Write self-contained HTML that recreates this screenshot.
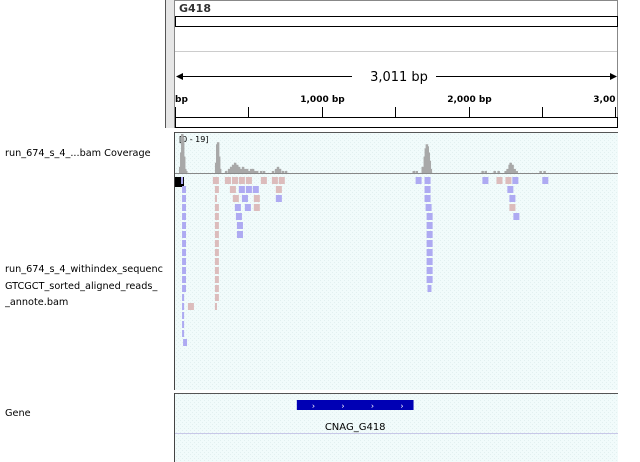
<!DOCTYPE html>
<html><head><meta charset="utf-8"><style>
html,body{margin:0;padding:0;background:#fff;}
body{width:640px;height:462px;overflow:hidden;position:relative;font-family:"DejaVu Sans","Liberation Sans",sans-serif;}
.lbl{position:absolute;left:5px;font-size:9.7px;color:#000;white-space:nowrap;overflow:hidden;width:158px;}
</style></head><body>
<div class="lbl" style="top:148px">run_674_s_4_...bam Coverage</div>
<div class="lbl" style="top:262px;line-height:16.5px">run_674_s_4_withindex_sequenc<br>GTCGCT_sorted_aligned_reads_<br>_annote.bam</div>
<div class="lbl" style="top:408px">Gene</div>
<svg id="chart" width="640" height="462" style="position:absolute;left:0;top:0" xmlns="http://www.w3.org/2000/svg">
<defs>
<pattern id="bgp" width="4" height="4" patternUnits="userSpaceOnUse"><rect width="4" height="4" fill="#f1fbfb"/><rect x="0" y="0" width="1" height="1" fill="#e2f0f0"/><rect x="2" y="2" width="1" height="1" fill="#e2f0f0"/></pattern>
</defs>
<line x1="165.5" y1="0" x2="165.5" y2="128" stroke="#555"/>
<rect x="166" y="0" width="8" height="128" fill="#e6e6e6"/>
<rect x="174.5" y="0.5" width="443" height="127" fill="#fff" stroke="#888"/>
<text x="179" y="12" font-size="11" font-weight="bold" fill="#333" font-family="DejaVu Sans,sans-serif">G418</text>
<rect x="175.5" y="16.5" width="442" height="10" fill="#fff" stroke="#000"/>
<line x1="175" y1="51.5" x2="617" y2="51.5" stroke="#ccc"/>
<g id="ruler"></g>
<rect x="175.5" y="117.5" width="442" height="10" fill="#fff" stroke="#000"/>
<line x1="174.5" y1="132" x2="174.5" y2="390" stroke="#444"/>
<rect x="175" y="132" width="443" height="258" fill="url(#bgp)"/>
<line x1="175" y1="132.5" x2="618" y2="132.5" stroke="#555"/>
<text x="179" y="142" font-size="8" fill="#000" font-family="DejaVu Sans,sans-serif">[0 - 19]</text>
<g id="cov"></g>
<line x1="175" y1="173.5" x2="618" y2="173.5" stroke="#888"/>
<rect x="175" y="177" width="9" height="10" fill="#000"/>
<g id="reads"></g>
<line x1="174.5" y1="393" x2="174.5" y2="462" stroke="#444"/>
<rect x="175" y="393" width="443" height="69" fill="url(#bgp)"/>
<line x1="175" y1="393.5" x2="618" y2="393.5" stroke="#555"/>
<line x1="175" y1="433.5" x2="618" y2="433.5" stroke="#c8c8e8"/>
<g id="gene"></g>
</svg>
<script>
// genome axis
const genomeStart = 0, genomeEnd = 3011;
const rulerTicks = [0, 500, 1000, 1500, 2000, 2500, 3000];
const rulerTickLabels = ["bp", "", "1,000 bp", "", "2,000 bp", "", "3,00"];
// coverage data (bp position, depth)
const covPos = [34,41,48,54,61,68,75, 279,286,292,299,306, 347,367,381,394,408,422,435,449,462,476,490,503,517,530,544,558, 585,605, 666,687,700,714,734,755, 1625,1645,1686,1700,1707,1714,1720,1727,1734,1741, 2094,2115,2176,2203, 2251,2264,2278,2285,2298,2312,2326, 2489,2516];
const covDepth = [3,10,19,17,8,2,1, 5,14,15,8,2, 1,2,3,4,5,4,3,2,3,2,2,1,2,2,1,1, 1,1, 1,2,3,2,1,1, 1,1,3,8,12,14,13,10,6,2, 1,1,1,1, 1,2,4,5,4,2,1, 1,1];
const covMax = 19;
// reads: row index, start bp, length bp, strand
const readRow = [
 0,0,0,0,0,0,0,0,0,0,0,0,0,0,0,0,
 1,1,1,1,1,1,1,1,1,
 2,2,2,2,2,2,2,2,
 3,3,3,3,3,3,3,
 4,4,4,4,4,
 5,5,5,5,
 6,6,6,6,
 7,7,7, 8,8,8, 9,9,9, 10,10,10, 11,11,11,
 12,12,12,
 13,13,
 14,14,14,
 15,16,17,
 18];
const readStart = [
 41,258,340,388,435,483,585,660,707,1639,1700,2094,2190,2251,2298,2502,
 48,272,374,435,483,530,687,1700,2264,
 48,272,394,456,537,687,1700,2278,
 48,272,408,476,537,1707,2278,
 48,272,415,1714,2305,
 48,272,422,1714,
 48,272,422,1714,
 48,272,1714, 48,272,1714, 48,272,1714, 48,272,1714, 48,272,1714,
 48,272,1720,
 48,272,
 48,88,272,
 48,48,48,
 55];
const readLen = [
 14,41,41,41,41,41,41,41,41,41,41,41,41,41,41,41,
 27,27,41,41,41,41,41,41,41,
 27,14,41,41,41,41,41,41,
 27,27,41,41,41,41,41,
 27,27,41,41,41,
 27,27,41,41,
 27,27,41,41,
 27,27,41, 27,27,41, 27,27,41, 27,27,41, 27,27,41,
 27,27,27,
 14,27,
 14,41,14,
 14,14,14,
 27];
const readStrand = [
 "+","-","-","-","-","-","-","-","-","+","+","+","-","-","+","+",
 "+","-","-","+","+","+","-","+","+",
 "+","-","-","+","-","+","+","+",
 "+","-","+","+","-","+","-",
 "+","-","+","+","+",
 "+","-","+","+",
 "+","-","+","+",
 "+","-","+", "+","-","+", "+","-","+", "+","-","+", "+","-","+",
 "+","-","+",
 "+","-",
 "+","-","-",
 "+","+","+",
 "+"];
// gene
const geneName = "CNAG_G418", geneStart = 830, geneEnd = 1625;

const X0 = 175, X1 = 617;
const xs = bp => X0 + (bp - genomeStart) / (genomeEnd - genomeStart) * (X1 - X0);
const NS = "http://www.w3.org/2000/svg";
function mk(tag, attrs, parent){const e=document.createElementNS(NS,tag);for(const k in attrs)e.setAttribute(k,attrs[k]);parent.appendChild(e);return e;}

const ruler = document.getElementById('ruler');
let l = mk('line',{x1:xs(genomeStart)+4,y1:76.5,x2:352,y2:76.5,stroke:'#000'},ruler);


l = mk('line',{x1:436,y1:76.5,x2:xs(genomeEnd)-4,y2:76.5,stroke:'#000'},ruler);


let p = mk('polygon',{points:`${X0+1},76.5 ${X0+8},73 ${X0+8},80`,fill:'#000'},ruler);


p = mk('polygon',{points:`${X1},76.5 ${X1-7},73 ${X1-7},80`,fill:'#000'},ruler);


let t = mk('text',{x:(X0+X1)/2+3,y:81,'font-size':13,'text-anchor':'middle','font-family':'DejaVu Sans,sans-serif'},ruler);
t.textContent = (genomeEnd).toLocaleString('en-US') + ' bp';


rulerTicks.forEach((v,i)=>{
  const x = Math.round(xs(v))+0.5;
  const tk = mk('line',{x1:x,y1:107,x2:x,y2:117,stroke:'#000'},ruler);
  
  
  if(rulerTickLabels[i]){
    const anchor = i===0?'start':(i===rulerTicks.length-1?'end':'middle');
    const tx = mk('text',{x:i===0?X0:x,y:102,'font-size':9,'font-weight':'bold','text-anchor':anchor,'font-family':'DejaVu Sans,sans-serif'},ruler);
    tx.textContent = rulerTickLabels[i];
    
    
  }
});

const cov = document.getElementById('cov');
const cy0 = 173, cH = 39;
covPos.forEach((b,i)=>{
  const h = covDepth[i]/covMax*cH;
  const r = mk('rect',{x:xs(b)-1,y:cy0-h,width:2.5,height:h,fill:'#a8a8a8'},cov);
  
  
});

const reads = document.getElementById('reads');
readRow.forEach((row,i)=>{
  const x = xs(readStart[i]);
  const w = Math.max(1.5, xs(readStart[i]+readLen[i]) - x);
  const r = mk('rect',{x:x,y:177+row*9,width:w,height:7,fill:readStrand[i]==='+'?'#aeaaf2':'#dcbcbc'},reads);
  
  
});

const gene = document.getElementById('gene');
const gx0 = xs(geneStart), gx1 = xs(geneEnd);
const gb = mk('rect',{x:gx0,y:400,width:gx1-gx0,height:10,fill:'#0000b4'},gene);


for(let k=0;k<4;k++){
  const ch = mk('text',{x:gx0+15+k*29.5,y:408.5,'font-size':8,fill:'#fff','font-family':'DejaVu Sans,sans-serif'},gene);
  ch.textContent='›';
  
  
}
const gl = mk('text',{x:(gx0+gx1)/2,y:430,'font-size':10,'text-anchor':'middle','font-family':'DejaVu Sans,sans-serif',fill:'#000'},gene);
gl.textContent = geneName;


</script>
</body></html>
